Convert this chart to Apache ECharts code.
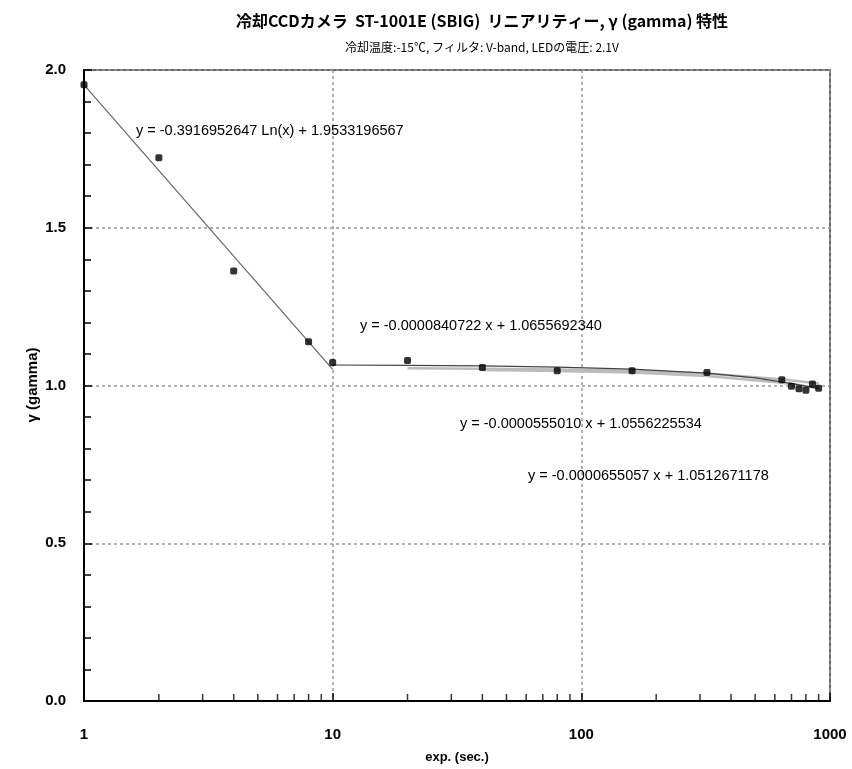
<!DOCTYPE html>
<html>
<head>
<meta charset="utf-8">
<script src="https://cdn.jsdelivr.net/npm/echarts@6/dist/echarts.min.js"></script>
<style>
  html, body { margin: 0; padding: 0; background: #fff; }
  #chart { width: 852px; height: 769px; }
</style>
</head>
<body>
<div id="chart"></div>
<script>
// mesures (temps de pose en s, gamma)
const expSec = [1, 2, 4, 8, 10, 20, 40, 80, 160, 320, 640, 700, 750, 800, 850, 900];
const gamma = [1.953, 1.722, 1.363, 1.139, 1.073, 1.079, 1.057, 1.047, 1.047, 1.041, 1.018, 0.998, 0.990, 0.985, 1.005, 0.991];

// courbes de tendance
const fitLnX = [1, 10];
const fitLnY = [1.953, 1.051];
const fitAX = [10, 20, 40, 80, 160, 320, 500, 700, 900];
const fitAY = [1.065, 1.064, 1.062, 1.058, 1.052, 1.039, 1.024, 1.007, 0.990];
const fitBX = [20, 40, 80, 160, 320, 640, 900];
const fitBY = [1.055, 1.053, 1.051, 1.047, 1.038, 1.020, 1.006];
const fitCX = [40, 80, 160, 320, 640, 900];
const fitCY = [1.049, 1.046, 1.041, 1.030, 1.009, 0.992];

// graduations secondaires de l'axe log
const minorTicksX = [2, 3, 4, 5, 6, 7, 8, 9, 20, 30, 40, 50, 60, 70, 80, 90, 200, 300, 400, 500, 600, 700, 800, 900];

const equations = [
  { text: 'y = -0.3916952647 Ln(x) + 1.9533196567', x: 136, y: 131 },
  { text: 'y = -0.0000840722 x + 1.0655692340', x: 360, y: 326 },
  { text: 'y = -0.0000555010 x + 1.0556225534', x: 460, y: 424 },
  { text: 'y = -0.0000655057 x + 1.0512671178', x: 528, y: 476 }
];

const zip = (xs, ys) => xs.map((x, i) => [x, ys[i]]);
const JP = '"Noto Sans CJK JP", sans-serif';
const TXT = '"Liberation Sans", Arial, sans-serif';

const chart = echarts.init(document.getElementById('chart'));

const fitLine = (data, color, width) => ({
  type: 'line', data, symbol: 'none', silent: true,
  lineStyle: { color, width }, z: 3
});

const eqGraphics = equations.map((e) => ({
  type: 'text', left: e.x, top: e.y - 8,
  style: { text: e.text, fontFamily: TXT, fontSize: 14.5, fill: '#000' }, z: 10
}));
// nom de l'axe Y placé à la main
eqGraphics.push({
  type: 'text', x: 33, y: 385, rotation: Math.PI / 2,
  style: { text: 'γ (gamma)', fontFamily: TXT, fontSize: 15, fontWeight: 'bold', fill: '#000',
    align: 'center', verticalAlign: 'middle' }, z: 10
});

chart.setOption({
  animation: false,
  title: [
    { text: '冷却CCDカメラ  ST-1001E (SBIG)  リニアリティー, γ (gamma) 特性', left: 477, top: 8, textAlign: 'center',
      textStyle: { fontFamily: JP, fontSize: 16, fontWeight: 'bold', color: '#000' } },
    { text: '冷却温度:-15℃, フィルタ: V-band, LEDの電圧: 2.1V', left: 477, top: 36, textAlign: 'center',
      textStyle: { fontFamily: JP, fontSize: 12, fontWeight: 'normal', color: '#000' } }
  ],
  grid: { left: 84, right: 22, top: 70, bottom: 65, show: true, borderColor: '#666', borderWidth: 2 },
  xAxis: {
    type: 'log', logBase: 10, min: 1, max: 1000,
    name: 'exp. (sec.)', nameLocation: 'middle', nameGap: 50,
    nameTextStyle: { fontFamily: TXT, fontSize: 13, fontWeight: 'bold', color: '#000' },
    axisLine: { lineStyle: { color: '#000', width: 2 } },
    axisTick: { inside: true, length: 8, lineStyle: { color: '#000', width: 1.5 } },
    minorTick: { show: false },
    axisLabel: { fontFamily: TXT, fontSize: 15, fontWeight: 'bold', color: '#000', margin: 26,
      formatter: (v) => String(Math.round(v)) },
    splitLine: { show: true, lineStyle: { color: '#999', type: [3, 3], width: 1.5 } }
  },
  yAxis: {
    type: 'value', min: 0, max: 2, interval: 0.5,
    axisLine: { show: true, lineStyle: { color: '#000', width: 2 } },
    axisTick: { inside: true, length: 8, lineStyle: { color: '#000', width: 1.5 } },
    minorTick: { show: true, splitNumber: 5, length: 7, lineStyle: { color: '#000', width: 1.5 } },
    axisLabel: { fontFamily: TXT, fontSize: 15, fontWeight: 'bold', color: '#000', margin: 18,
      formatter: (v) => v.toFixed(1) },
    splitLine: { show: true, lineStyle: { color: '#999', type: [3, 3], width: 1.5 } }
  },
  series: [
    fitLine(zip(fitBX, fitBY), '#bbb', 2.5),
    fitLine(zip(fitCX, fitCY), '#bbb', 2.5),
    fitLine(zip(fitLnX, fitLnY), '#666', 1.2),
    fitLine(zip(fitAX, fitAY), '#444', 1.2),
    {
      type: 'scatter', data: zip(expSec, gamma), symbol: 'roundRect', symbolSize: 7,
      itemStyle: { color: '#000' }, z: 5
    },
    {
      type: 'scatter', silent: true, clip: false,
      data: minorTicksX.map((x) => [x, 0]),
      symbol: 'rect', symbolSize: [1.5, 7], symbolOffset: [0, -3.5],
      itemStyle: { color: '#000' }, z: 6
    }
  ],
  graphic: eqGraphics
});
</script>
</body>
</html>
